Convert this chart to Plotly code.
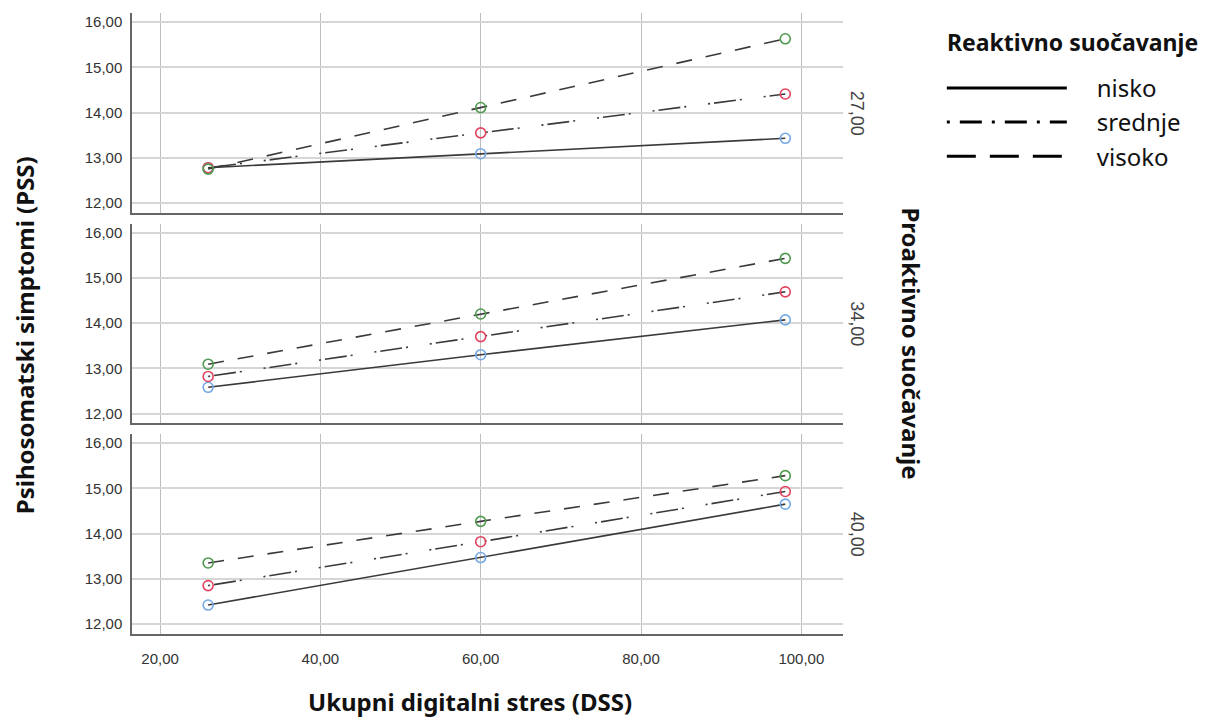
import plotly.graph_objects as go
from plotly.subplots import make_subplots

x_vals = [26, 60, 98]
panels = ["27,00", "34,00", "40,00"]
series_names = ["nisko", "srednje", "visoko"]

# values per panel (Proaktivno) per series (Reaktivno)
p27_nisko = [12.78, 13.09, 13.43]
p27_srednje = [12.78, 13.55, 14.41]
p27_visoko = [12.75, 14.11, 15.63]

p34_nisko = [12.58, 13.30, 14.07]
p34_srednje = [12.82, 13.70, 14.69]
p34_visoko = [13.09, 14.20, 15.43]

p40_nisko = [12.42, 13.47, 14.65]
p40_srednje = [12.85, 13.82, 14.93]
p40_visoko = [13.35, 14.27, 15.28]

y_ticks = [12, 13, 14, 15, 16]
x_ticks = [20, 40, 60, 80, 100]

data = [
    [p27_nisko, p27_srednje, p27_visoko],
    [p34_nisko, p34_srednje, p34_visoko],
    [p40_nisko, p40_srednje, p40_visoko],
]

marker_colors = ["#74a9e6", "#e2435f", "#4f9a4f"]
line_dash = ["solid", "2px,4px,22px,4px,2px,22px", "16px,14px"]
legend_dash = ["solid", "3px,10px,22px,10px", "29px,14px"]

fig = make_subplots(rows=3, cols=1, shared_xaxes=True, vertical_spacing=0.017)

for r, panel in enumerate(data):
    for s, ys in enumerate(panel):
        fig.add_trace(
            go.Scatter(
                x=x_vals, y=ys, mode="lines+markers",
                line=dict(color="#3a3a3a", width=1.6, dash=line_dash[s]),
                marker=dict(symbol="circle-open", size=10, color=marker_colors[s],
                            line=dict(width=1.6, color=marker_colors[s])),
                showlegend=False, hoverinfo="x+y",
            ),
            row=r + 1, col=1,
        )

nb = "\u00a0" * 4
for s, name in enumerate(series_names):
    fig.add_trace(
        go.Scatter(
            x=[None], y=[None], mode="lines", name=nb + name,
            line=dict(color="#000000", width=3, dash=legend_dash[s]),
            showlegend=True,
        ),
        row=1, col=1,
    )

tick_font = dict(family="Liberation Sans, Arial, sans-serif", size=15, color="#333333")

for r in range(1, 4):
    fig.update_yaxes(
        range=[11.78, 16.2], tickvals=y_ticks, tickformat=".2f",
        showgrid=True, gridcolor="#d6d6d6", gridwidth=2, zeroline=False,
        showline=True, linecolor="#666666", linewidth=1.5,
        tickfont=tick_font, ticks="", ticklabelstandoff=5,
        row=r, col=1,
    )
    fig.update_xaxes(
        range=[16.5, 105.2], tickvals=x_ticks, tickformat=".2f",
        showgrid=True, gridcolor="#bdbdbd", gridwidth=1, zeroline=False,
        showline=True, linecolor="#666666", linewidth=1.5,
        tickfont=tick_font, ticks="", ticklabelstandoff=10,
        row=r, col=1,
    )

annotations = []
for i, lab in enumerate(panels):
    yref = "y domain" if i == 0 else f"y{i+1} domain"
    annotations.append(dict(
        text=lab, xref="paper", yref=yref, x=1.02, y=0.5,
        xanchor="center", yanchor="middle", textangle=90, showarrow=False,
        font=dict(family="Liberation Sans, Arial, sans-serif", size=18, color="#444444"),
    ))

title_font = dict(family="Noto Sans, Lato, sans-serif", size=24, color="#111111")
annotations.append(dict(
    text="<b>Proaktivno suočavanje</b>", xref="paper", yref="paper",
    x=1.097, y=0.468, xanchor="center", yanchor="middle", textangle=90,
    showarrow=False, font=title_font,
))
annotations.append(dict(
    text="<b>Psihosomatski simptomi (PSS)</b>", xref="paper", yref="paper",
    x=-0.152, y=0.481, xanchor="center", yanchor="middle", textangle=-90,
    showarrow=False, font=title_font,
))
annotations.append(dict(
    text="<b>Ukupni digitalni stres (DSS)</b>", xref="paper", yref="paper",
    x=0.475, y=-0.109, xanchor="center", yanchor="middle",
    showarrow=False, font=title_font,
))
# legend title
annotations.append(dict(
    text="<b>Reaktivno suočavanje</b>", xref="paper", yref="paper",
    x=1.1435, y=0.953, xanchor="left", yanchor="middle",
    showarrow=False, font=dict(family="Noto Sans, Lato, sans-serif", size=23, color="#111111"),
))

fig.update_layout(
    width=1205, height=711,
    margin=dict(l=124, r=370, t=5, b=85),
    paper_bgcolor="white", plot_bgcolor="white",
    separators=",.",
    annotations=annotations,
    legend=dict(
        x=1.139, y=0.915, xanchor="left", yanchor="top",
        font=dict(family="Noto Sans, Lato, sans-serif", size=24, color="#111111"),
        itemwidth=120, tracegroupgap=0, bgcolor="rgba(0,0,0,0)",
    ),
)

fig.write_html("out.html")
